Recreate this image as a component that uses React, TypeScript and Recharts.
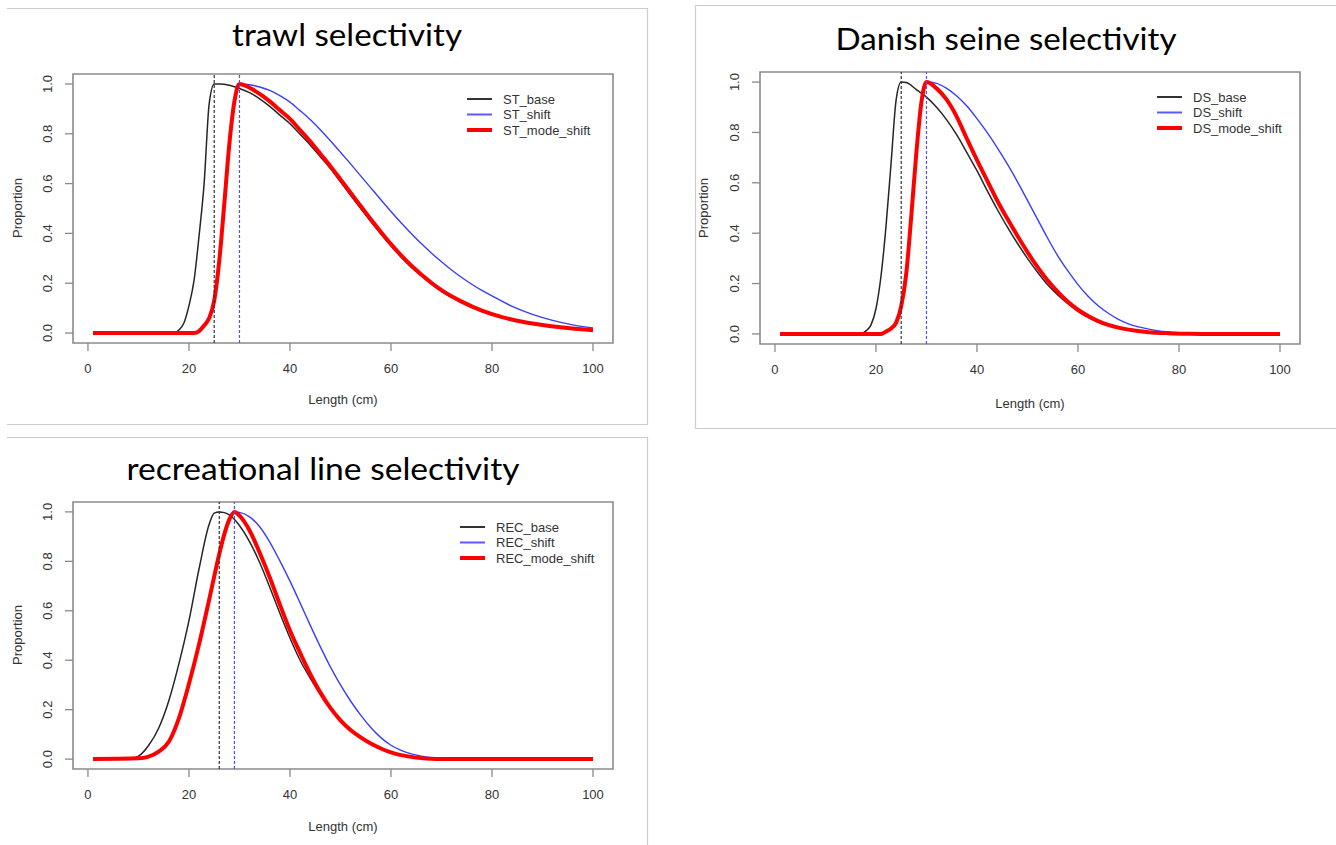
import React from 'react';
import { LineChart, Line, XAxis, YAxis, ReferenceLine, ReferenceArea } from 'recharts';

type Pt = [number, number];

const xTicks = [0, 20, 40, 60, 80, 100];
const yTicks = [0, 0.2, 0.4, 0.6, 0.8, 1.0];

// ---------- trawl ----------
const ST_base: Pt[] = [
  [1, 0], [17, 0], [18, 0.012], [19, 0.04], [20, 0.11], [21, 0.21], [22, 0.39], [23, 0.6], [24, 0.92], [25, 1.0],
  [26, 1.0], [28, 0.995], [30, 0.982], [32, 0.965], [34, 0.94], [36, 0.91], [38, 0.875], [40, 0.84], [42, 0.798],
  [44, 0.755], [46, 0.708], [48, 0.66], [50, 0.607], [52, 0.553], [54, 0.5], [56, 0.448], [58, 0.398], [60, 0.35],
  [62, 0.305], [64, 0.265], [66, 0.23], [68, 0.196], [70, 0.167], [74, 0.122], [78, 0.087], [82, 0.062], [86, 0.044],
  [90, 0.031], [95, 0.019], [100, 0.01],
];
const ST_shift: Pt[] = [
  [1, 0], [21, 0], [22, 0.008], [23, 0.03], [24, 0.06], [25, 0.13], [26, 0.29], [27, 0.52], [28, 0.76], [29, 0.93],
  [30, 1.0], [32, 0.997], [34, 0.988], [36, 0.974], [38, 0.953], [40, 0.927], [42, 0.893], [44, 0.857], [46, 0.816],
  [48, 0.772], [50, 0.726], [52, 0.679], [54, 0.631], [56, 0.583], [58, 0.535], [60, 0.488], [62, 0.443], [64, 0.4],
  [66, 0.359], [68, 0.321], [70, 0.286], [72, 0.253], [74, 0.223], [76, 0.196], [78, 0.171], [80, 0.149], [84, 0.107],
  [88, 0.075], [92, 0.051], [96, 0.033], [100, 0.02],
];
const ST_mode_shift: Pt[] = [
  [1, 0], [21, 0], [22, 0.008], [23, 0.03], [24, 0.06], [25, 0.13], [26, 0.29], [27, 0.52], [28, 0.76], [29, 0.93],
  [30, 1.0], [32, 0.985], [34, 0.96], [36, 0.93], [38, 0.895], [40, 0.86], [42, 0.815], [44, 0.77], [46, 0.72],
  [48, 0.67], [50, 0.617], [52, 0.563], [54, 0.51], [56, 0.457], [58, 0.406], [60, 0.357], [62, 0.312], [64, 0.271],
  [66, 0.235], [68, 0.202], [70, 0.172], [74, 0.126], [78, 0.09], [82, 0.064], [86, 0.045], [90, 0.032], [95, 0.02],
  [100, 0.011],
];

// ---------- Danish seine ----------
const DS_base: Pt[] = [
  [1, 0], [17, 0], [18, 0.012], [19, 0.035], [20, 0.1], [21, 0.23], [22, 0.43], [23, 0.68], [24, 0.93], [25, 1.0],
  [26, 0.998], [28, 0.97], [30, 0.94], [32, 0.9], [34, 0.85], [36, 0.79], [38, 0.72], [40, 0.648], [42, 0.57],
  [44, 0.495], [46, 0.425], [48, 0.36], [50, 0.3], [52, 0.245], [54, 0.195], [56, 0.155], [58, 0.12], [60, 0.09],
  [62, 0.066], [64, 0.047], [66, 0.033], [68, 0.022], [70, 0.015], [74, 0.006], [78, 0.002], [82, 0], [100, 0],
];
const DS_shift: Pt[] = [
  [1, 0], [21, 0], [22, 0.01], [23, 0.022], [24, 0.045], [25, 0.11], [26, 0.24], [27, 0.47], [28, 0.72], [29, 0.92],
  [30, 1.0], [32, 0.995], [34, 0.975], [36, 0.945], [38, 0.905], [40, 0.855], [42, 0.8], [44, 0.74], [46, 0.675],
  [48, 0.605], [50, 0.53], [52, 0.455], [54, 0.38], [56, 0.31], [58, 0.25], [60, 0.196], [62, 0.15], [64, 0.112],
  [66, 0.082], [68, 0.058], [70, 0.04], [72, 0.028], [74, 0.019], [76, 0.012], [78, 0.008], [80, 0.005], [83, 0.002],
  [86, 0], [100, 0],
];
const DS_mode_shift: Pt[] = [
  [1, 0], [21, 0], [22, 0.01], [23, 0.022], [24, 0.045], [25, 0.11], [26, 0.24], [27, 0.47], [28, 0.72], [29, 0.92],
  [30, 1.0], [32, 0.975], [34, 0.93], [36, 0.862], [38, 0.775], [40, 0.69], [42, 0.61], [44, 0.53], [46, 0.458],
  [48, 0.39], [50, 0.325], [52, 0.265], [54, 0.212], [56, 0.167], [58, 0.128], [60, 0.096], [62, 0.071], [64, 0.051],
  [66, 0.036], [68, 0.025], [70, 0.017], [74, 0.007], [78, 0.003], [82, 0.001], [86, 0], [100, 0],
];

// ---------- recreational line ----------
const REC_base: Pt[] = [
  [1, 0], [8, 0], [10, 0.012], [12, 0.055], [14, 0.125], [16, 0.235], [18, 0.385], [20, 0.56], [22, 0.77], [24, 0.95],
  [25, 0.995], [26, 1.0], [27, 0.997], [28, 0.988], [30, 0.945], [32, 0.88], [34, 0.795], [36, 0.695], [38, 0.59],
  [40, 0.49], [42, 0.4], [44, 0.328], [46, 0.262], [48, 0.205], [50, 0.158], [52, 0.12], [54, 0.09], [56, 0.063],
  [58, 0.042], [60, 0.026], [62, 0.015], [64, 0.008], [66, 0.004], [68, 0.001], [70, 0], [100, 0],
];
const REC_shift: Pt[] = [
  [1, 0], [10, 0.003], [12, 0.01], [14, 0.03], [16, 0.07], [18, 0.165], [20, 0.305], [22, 0.465], [24, 0.645],
  [26, 0.83], [27, 0.91], [28, 0.97], [29, 1.0], [30, 0.998], [32, 0.98], [34, 0.94], [36, 0.878], [38, 0.802],
  [40, 0.72], [42, 0.632], [44, 0.542], [46, 0.455], [48, 0.373], [50, 0.3], [52, 0.235], [54, 0.178], [56, 0.128],
  [58, 0.087], [60, 0.056], [62, 0.035], [64, 0.021], [66, 0.012], [68, 0.006], [70, 0.002], [72, 0], [100, 0],
];
const REC_mode_shift: Pt[] = [
  [1, 0], [10, 0.003], [12, 0.01], [14, 0.03], [16, 0.07], [18, 0.165], [20, 0.305], [22, 0.465], [24, 0.645],
  [26, 0.83], [27, 0.91], [28, 0.97], [29, 1.0], [30, 0.985], [32, 0.925], [34, 0.835], [36, 0.735], [38, 0.625],
  [40, 0.52], [42, 0.43], [44, 0.345], [46, 0.27], [48, 0.207], [50, 0.157], [52, 0.118], [54, 0.088], [56, 0.063],
  [58, 0.043], [60, 0.027], [62, 0.016], [64, 0.009], [66, 0.004], [68, 0.001], [70, 0], [100, 0],
];

const stNames = ['ST_base', 'ST_shift', 'ST_mode_shift'];
const dsNames = ['DS_base', 'DS_shift', 'DS_mode_shift'];
const recNames = ['REC_base', 'REC_shift', 'REC_mode_shift'];

const stModes = [25, 30];
const dsModes = [25, 30];
const recModes = [26, 29];

const titles = ['trawl selectivity', 'Danish seine selectivity', 'recreational line selectivity'];

const COLORS = ['#262626', '#3c3cff', '#ff0000'];
const WIDTHS = [1.5, 1.4, 4];
const LEG_COLORS = ['#333333', '#5a5aff', '#ff0000'];
const LEG_WIDTHS = [2, 2, 4];

const AXIS_FONT = '"Liberation Sans", Arial, sans-serif';
const TXT = '#333333';
const BOX = '#8a8a8a';

const XDOM: [number, number] = [-2.96, 103.96];
const YDOM: [number, number] = [-0.04, 1.04];

type Box = { x: number; y: number; w: number; h: number };

const toObj = (a: Pt[]) => a.map(([x, y]) => ({ x, y }));

function Panel({ box, series, modes }: { box: Box; series: Pt[][]; modes: number[] }) {
  const ML = 70, MT = 10, MR = 20, XH = 40;
  const w = box.w + ML + MR;
  const h = box.h + MT + XH;
  const xTick = (p: any) => (
    <text x={p.x} y={MT + box.h + 25} textAnchor="middle" dominantBaseline="central"
      fontSize={13} fontFamily={AXIS_FONT} fill={TXT}>{p.payload.value}</text>
  );
  const yTick = (p: any) => {
    const tx = ML - 25;
    return (
      <text x={tx} y={p.y} transform={`rotate(-90, ${tx}, ${p.y})`} textAnchor="middle" dominantBaseline="central"
        fontSize={13} fontFamily={AXIS_FONT} fill={TXT}>{Number(p.payload.value).toFixed(1)}</text>
    );
  };
  return (
    <div style={{ position: 'absolute', left: box.x - ML, top: box.y - MT }}>
      <LineChart width={w} height={h} margin={{ top: MT, right: MR, left: 0, bottom: 0 }}>
        <XAxis type="number" dataKey="x" domain={XDOM} ticks={xTicks} interval={0} allowDataOverflow
          axisLine={false} tickLine={{ stroke: BOX, strokeWidth: 1.3 }} tickSize={8} height={XH} tick={xTick} />
        <YAxis type="number" dataKey="y" domain={YDOM} ticks={yTicks} interval={0} allowDataOverflow
          axisLine={false} tickLine={{ stroke: BOX, strokeWidth: 1.3 }} tickSize={8} width={ML} tick={yTick} />
        <ReferenceArea x1={XDOM[0]} x2={XDOM[1]} y1={YDOM[0]} y2={YDOM[1]} fill="none" fillOpacity={0}
          stroke={BOX} strokeWidth={1.6} ifOverflow="visible" />
        {series.map((s, i) => (
          <Line key={i} data={toObj(s)} dataKey="y" type="monotone" stroke={COLORS[i]} strokeWidth={WIDTHS[i]}
            dot={false} activeDot={false} isAnimationActive={false} />
        ))}
        <ReferenceLine x={modes[0]} stroke="#333333" strokeWidth={1.2} strokeDasharray="3 2" />
        <ReferenceLine x={modes[1]} stroke="#5050ff" strokeWidth={1.2} strokeDasharray="3 2" />
      </LineChart>
    </div>
  );
}

function Legend({ x, y, names }: { x: number; y: number; names: string[] }) {
  const rows = [0, 15.5, 31];
  return (
    <g>
      {names.map((n, i) => (
        <g key={n}>
          <line x1={x} x2={x + 25} y1={y + rows[i]} y2={y + rows[i]} stroke={LEG_COLORS[i]} strokeWidth={LEG_WIDTHS[i]} />
          <text x={x + 36} y={y + rows[i]} dominantBaseline="central" fontSize={13} fontFamily={AXIS_FONT} fill={TXT}>{n}</text>
        </g>
      ))}
    </g>
  );
}

const box1: Box = { x: 73, y: 74, w: 540, h: 269 };
const box2: Box = { x: 760, y: 72, w: 540, h: 272 };
const box3: Box = { x: 73, y: 502, w: 540, h: 267 };

export default function App() {
  const border = '#cccccc';
  return (
    <div style={{ position: 'absolute', left: 0, top: 0, width: 1336, height: 845, background: '#ffffff', overflow: 'hidden' }}>
      <Panel box={box1} series={[ST_base, ST_shift, ST_mode_shift]} modes={stModes} />
      <Panel box={box2} series={[DS_base, DS_shift, DS_mode_shift]} modes={dsModes} />
      <Panel box={box3} series={[REC_base, REC_shift, REC_mode_shift]} modes={recModes} />
      <svg width={1336} height={845} style={{ position: 'absolute', left: 0, top: 0, pointerEvents: 'none' }}>
        {/* panel frames */}
        <polyline points="7,8.5 647.5,8.5 647.5,424.5 7,424.5" fill="none" stroke={border} strokeWidth={1.2} />
        <polyline points="1336,5.5 695.5,5.5 695.5,428.5 1336,428.5" fill="none" stroke={border} strokeWidth={1.2} />
        <polyline points="7,437.5 647.5,437.5 647.5,845" fill="none" stroke={border} strokeWidth={1.2} />

        {/* titles */}
        <text x={347} y={46} textAnchor="middle" fontSize={30} fontFamily="Lato, sans-serif" fill="#000"
          textLength={230} lengthAdjust="spacingAndGlyphs">{titles[0]}</text>
        <text x={1006} y={50} textAnchor="middle" fontSize={30} fontFamily="Lato, sans-serif" fill="#000"
          textLength={341} lengthAdjust="spacingAndGlyphs">{titles[1]}</text>
        <text x={323} y={480} textAnchor="middle" fontSize={30} fontFamily="Lato, sans-serif" fill="#000"
          textLength={393} lengthAdjust="spacingAndGlyphs">{titles[2]}</text>

        {/* axis titles */}
        <text x={343} y={399} textAnchor="middle" dominantBaseline="central" fontSize={13} fontFamily={AXIS_FONT} fill={TXT}>Length (cm)</text>
        <text x={1030} y={403} textAnchor="middle" dominantBaseline="central" fontSize={13} fontFamily={AXIS_FONT} fill={TXT}>Length (cm)</text>
        <text x={343} y={826} textAnchor="middle" dominantBaseline="central" fontSize={13} fontFamily={AXIS_FONT} fill={TXT}>Length (cm)</text>
        <text x={17} y={208} transform="rotate(-90, 17, 208)" textAnchor="middle" dominantBaseline="central" fontSize={13} fontFamily={AXIS_FONT} fill={TXT}>Proportion</text>
        <text x={703} y={208} transform="rotate(-90, 703, 208)" textAnchor="middle" dominantBaseline="central" fontSize={13} fontFamily={AXIS_FONT} fill={TXT}>Proportion</text>
        <text x={17} y={635} transform="rotate(-90, 17, 635)" textAnchor="middle" dominantBaseline="central" fontSize={13} fontFamily={AXIS_FONT} fill={TXT}>Proportion</text>

        {/* legends */}
        <Legend x={467} y={99} names={stNames} />
        <Legend x={1157} y={97} names={dsNames} />
        <Legend x={460} y={527} names={recNames} />
      </svg>
    </div>
  );
}
